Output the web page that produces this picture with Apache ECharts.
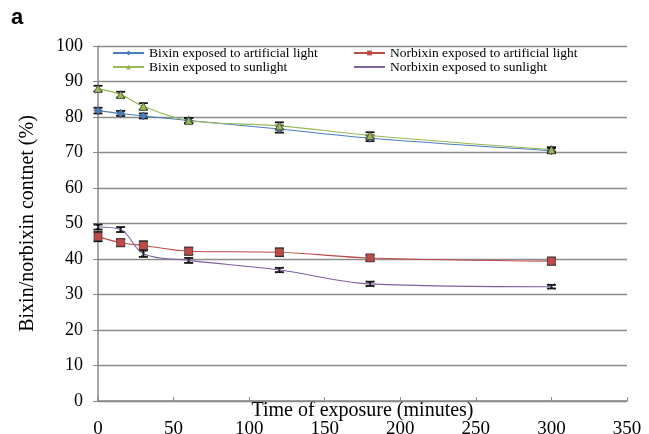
<!DOCTYPE html>
<html><head><meta charset="utf-8">
<script src="https://cdn.jsdelivr.net/npm/echarts@6/dist/echarts.min.js"></script>
<style>html,body{margin:0;padding:0;background:#fff}#c{width:649px;height:434px}</style>
</head><body><div id="c"></div>
<script>
const times = [0, 15, 30, 60, 120, 180, 300];
const bixinArtificial = [81.8, 81.0, 80.3, 79.0, 76.6, 74.0, 70.5];
const bixinSun = [88.0, 86.3, 83.0, 79.0, 77.5, 74.8, 70.8];
const norbixinArtificial = [46.3, 44.6, 43.8, 42.2, 41.9, 40.3, 39.4];
const norbixinSun = [49.0, 48.3, 41.5, 39.6, 36.9, 33.0, 32.2];
const errBixinArtificial = [0.8, 0.7, 0.7, 0.7, 1.0, 0.8, 0.7];
const errBixinSun = [0.8, 0.8, 0.9, 0.7, 1.0, 0.9, 0.7];
const errNorbixinArtificial = [1.3, 1.0, 1.2, 1.0, 1.1, 0.9, 1.0];
const errNorbixinSun = [0.7, 0.7, 0.9, 0.7, 0.6, 0.6, 0.5];
const xTicks = [0, 50, 100, 150, 200, 250, 300, 350];

const serif = '"Liberation Serif","DejaVu Serif",serif';
const chart = echarts.init(document.getElementById('c'));

function pairs(vals){ return times.map((t,i)=>[t, vals[i]]); }
function errSeries(vals, errs){
  return {
    type: 'custom', silent: true, z: 5,
    data: times.map((t,i)=>[t, vals[i]-errs[i], vals[i]+errs[i]]),
    renderItem: function(params, api){
      const x = api.coord([api.value(0), api.value(1)])[0];
      const lo = api.coord([api.value(0), api.value(1)])[1];
      const hi = api.coord([api.value(0), api.value(2)])[1];
      const w = 4.5;
      const st = {stroke:'#111', lineWidth:1.8};
      return {type:'group', children:[
        {type:'line', shape:{x1:x,y1:lo,x2:x,y2:hi}, style:st},
        {type:'line', shape:{x1:x-w,y1:lo,x2:x+w,y2:lo}, style:st},
        {type:'line', shape:{x1:x-w,y1:hi,x2:x+w,y2:hi}, style:st}
      ]};
    }
  };
}
function lineSeries(name, vals, color, symbol, size){
  return {
    name: name, type: 'line', smooth: 0.35, data: pairs(vals),
    symbol: symbol, symbolSize: size, z: 6,
    lineStyle: {color: color, width: 1.1},
    itemStyle: {color: color, borderColor: '#333', borderWidth: 0.7}
  };
}
const legendCommon = {
  orient: 'vertical', itemGap: 0, itemWidth: 31, itemHeight: 6, padding: 0,
  textStyle: {fontFamily: serif, fontSize: 13.5, lineHeight: 13.5, color: '#000'},
  itemStyle: {borderWidth: 0}
};

chart.setOption({
  animation: false,
  textStyle: {fontFamily: serif},
  graphic: [{type:'text', left: 11, top: 7, style:{text:'a', font:'bold 22px "Liberation Sans",Arial,sans-serif', fill:'#000'}}],
  grid: {left: 98, right: 22, top: 46, bottom: 33, containLabel: false, outerBoundsMode: 'none'},
  legend: [
    Object.assign({top: 46, left: 112, data: ['Bixin exposed to artificial light', 'Bixin exposed to sunlight']}, legendCommon),
    Object.assign({top: 46, left: 353, data: ['Norbixin exposed to artificial light', 'Norbixin exposed to sunlight']}, legendCommon)
  ],
  xAxis: {
    type: 'value', min: 0, max: 350, interval: 50,
    name: 'Time of exposure (minutes)', nameLocation: 'middle', nameGap: 0,
    nameMoveOverlap: false,
    nameTextStyle: {fontFamily: serif, fontSize: 20, color: '#000'},
    axisLine: {show: true, lineStyle: {color: '#888', width: 1.5}},
    axisTick: {show: true, inside: true, length: 4, lineStyle: {color: '#888'}},
    axisLabel: {fontFamily: serif, fontSize: 19, color: '#000', margin: 19,
      formatter: v => xTicks.includes(v) ? String(v) : ''},
    splitLine: {show: false}
  },
  yAxis: {
    type: 'value', min: 0, max: 100, interval: 10,
    name: 'Bixin/norbixin contnet (%)', nameLocation: 'middle', nameGap: 60,
    nameTextStyle: {fontFamily: serif, fontSize: 20, color: '#000'},
    axisLine: {show: true, lineStyle: {color: '#888', width: 1.5}},
    axisTick: {show: true, length: 5, lineStyle: {color: '#888'}},
    axisLabel: {fontFamily: serif, fontSize: 18, color: '#000', margin: 15},
    splitLine: {show: true, lineStyle: {color: '#8c8c8c', width: 1.3}}
  },
  series: [
    lineSeries('Bixin exposed to artificial light', bixinArtificial, '#4a7ebb', 'diamond', 8),
    lineSeries('Norbixin exposed to artificial light', norbixinArtificial, '#be4b48', 'rect', 8),
    lineSeries('Bixin exposed to sunlight', bixinSun, '#98b954', 'triangle', 8),
    lineSeries('Norbixin exposed to sunlight', norbixinSun, '#7d60a0', 'path://M0,0L10,10M10,0L0,10', 7),
    errSeries(bixinArtificial, errBixinArtificial),
    errSeries(norbixinArtificial, errNorbixinArtificial),
    errSeries(bixinSun, errBixinSun),
    errSeries(norbixinSun, errNorbixinSun)
  ]
});
</script></body></html>
